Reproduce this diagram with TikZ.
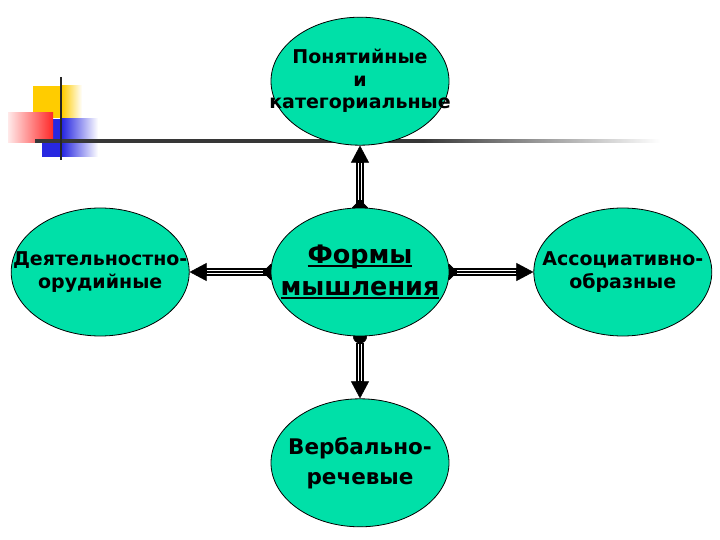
\documentclass[tikz,border=0pt]{standalone}
\usepackage{fontspec}
\setmainfont{DejaVu Sans}
\usetikzlibrary{arrows.meta,positioning,shapes.geometric,backgrounds}
\definecolor{blobgreen}{RGB}{0,224,168}
\definecolor{logoyellow}{RGB}{255,204,0}
\definecolor{logored}{RGB}{255,40,40}
\definecolor{logoblue}{RGB}{40,40,225}
\definecolor{rulegray}{RGB}{55,55,55}
\pgfdeclarehorizontalshading{rulefade}{100bp}{color(0bp)=(rulegray); color(25bp)=(rulegray);
  color(56bp)=(rulegray); color(75bp)=(white); color(100bp)=(white)}
\newcommand{\thickul}[1]{\setbox0\hbox{#1}\rlap{\rule[-3.5pt]{\wd0}{1.6pt}}\box0}

\begin{document}
\begin{tikzpicture}[
  x=1pt, y=-1pt,
  node distance=62pt,
  blob/.style={ellipse, draw=black, line width=0.8pt, fill=blobgreen,
               minimum width=178pt, minimum height=128pt, inner sep=0pt},
  blobtext/.style={align=center, font=\bfseries\fontsize{19}{22.5}\selectfont},
  conn/.style={line width=8pt, black,
               >={Triangle[length=17pt,width=18pt,line width=0.5pt]},
               postaction={draw, white, line width=4.5pt, -, shorten <=8pt, shorten >=17pt},
               postaction={draw, black, line width=1.5pt, -, shorten <=8pt, shorten >=17pt}},
  diastart/.style={shorten <=-8pt, {Diamond[length=16pt,width=16pt,line width=0.5pt]}->},
  dotstart/.style={shorten <=-7pt, {Circle[length=14pt,line width=0.5pt]}->}
]
\useasboundingbox (0,0) rectangle (720,540);

% ellipses
\node[blob] (forms) at (360,272) {};
\node[blob, above=62pt of forms] (concept) {};
\node[blob, below=62pt of forms] (verbal) {};
\node[blob, left=81pt of forms] (activity) {};
\node[blob, right=84pt of forms] (assoc) {};

\node[blobtext] (concept-text) at (concept) {Понятийные\\и\\категориальные};
\node[blobtext] (activity-text) at (activity) {Деятельностно-\\орудийные};
\node[blobtext] (assoc-text) at (assoc) {Ассоциативно-\\образные};
\node[blobtext, font=\bfseries\fontsize{25.5}{32}\selectfont] (forms-text) at (forms)
  {\thickul{Формы}\\\thickul{мышления}};
\node[blobtext, font=\bfseries\fontsize{21.5}{30}\selectfont] (verbal-text) at (verbal)
  {Вербально-\\речевые};

\begin{scope}[on background layer]
  % logo
  \fill[logoyellow] (33,86) rectangle (62,118);
  \shade[left color=logoyellow, right color=white] (62,86) rectangle (82,118);
  \fill[logoblue] (42,119) rectangle (62,157);
  \shade[left color=logoblue, right color=white] (62,119) rectangle (98,157);
  \shade[left color=logored!10, right color=logored] (8,113) rectangle (53,143);
  \shade[shading=rulefade] (35,139.5) rectangle (660,142.5);
  \draw[line width=2.5pt, black!85] (61,77) -- (61,160);
  % connectors
  \draw[conn, diastart] (forms) -- (concept);
  \draw[conn, diastart] (forms) -- (activity);
  \draw[conn, diastart] (forms) -- (assoc);
  \draw[conn, dotstart] (forms) -- (verbal);
\end{scope}
\end{tikzpicture}
\end{document}
